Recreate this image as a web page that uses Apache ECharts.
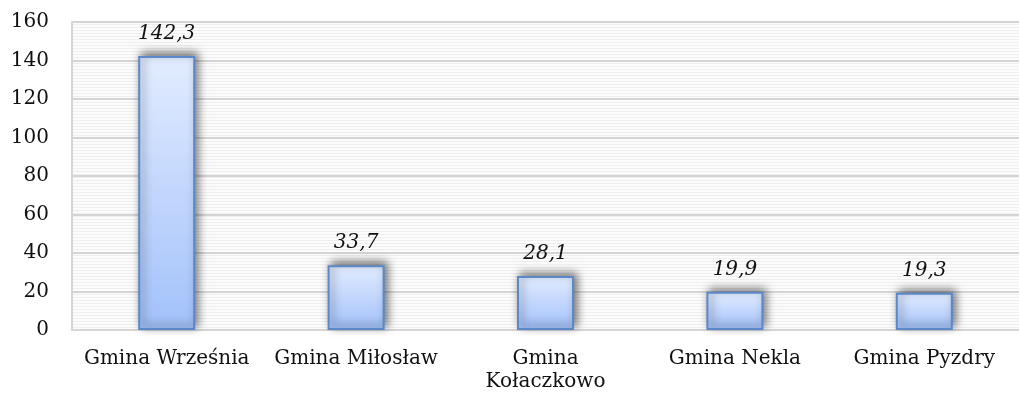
<!DOCTYPE html>
<html>
<head>
<meta charset="utf-8">
<script src="https://cdn.jsdelivr.net/npm/echarts@6/dist/echarts.min.js"></script>
<style>
  html, body { margin: 0; padding: 0; background: #ffffff; }
  #chart { width: 1019px; height: 399px; }
</style>
</head>
<body>
<div id="chart"></div>
<script>
// Gminy powiatu wrzesińskiego
const categories = ['Gmina Września', 'Gmina Miłosław', 'Gmina Kołaczkowo', 'Gmina Nekla', 'Gmina Pyzdry'];
const values = [142.3, 33.7, 28.1, 19.9, 19.3];
const yTicks = [0, 20, 40, 60, 80, 100, 120, 140, 160];

const FONT = '"DejaVu Serif", "Liberation Serif", serif';

// fine horizontal hatching behind the plot
function stripePattern() {
  const c = document.createElement('canvas');
  c.width = 4; c.height = 3;
  const ctx = c.getContext('2d');
  ctx.fillStyle = '#fcfcfc';
  ctx.fillRect(0, 0, 4, 3);
  ctx.fillStyle = '#eeeeee';
  ctx.fillRect(0, 0, 4, 1);
  return c;
}

// long names go onto two lines
function wrapName(name) {
  return name.length > 15 ? name.replace(' ', '\n') : name;
}

const chart = echarts.init(document.getElementById('chart'), null, { renderer: 'canvas' });

chart.setOption({
  animation: false,
  backgroundColor: '#ffffff',
  grid: {
    left: 72, top: 22, width: 961, height: 308,
    show: true,
    backgroundColor: { image: stripePattern(), repeat: 'repeat' },
    borderWidth: 0
  },
  xAxis: {
    type: 'category',
    data: categories,
    axisLine: { show: true, lineStyle: { color: '#d6d6d6', width: 2 } },
    axisTick: { show: false },
    axisLabel: {
      color: '#111111',
      fontFamily: FONT,
      fontSize: 20,
      lineHeight: 23,
      margin: 17,
      interval: 0,
      formatter: wrapName
    }
  },
  yAxis: {
    type: 'value',
    min: yTicks[0],
    max: yTicks[yTicks.length - 1],
    interval: 20,
    axisLine: { show: true, lineStyle: { color: '#d6d6d6', width: 2 } },
    axisTick: { show: false },
    axisLabel: {
      color: '#111111',
      fontFamily: FONT,
      fontSize: 20,
      margin: 23
    },
    splitLine: { show: true, lineStyle: { color: '#d4d4d4', width: 2 } }
  },
  series: [{
    type: 'bar',
    data: values,
    barWidth: 57,
    itemStyle: {
      color: new echarts.graphic.LinearGradient(0, 0, 0, 1, [
        { offset: 0, color: '#e2ecff' },
        { offset: 1, color: '#a2c1fa' }
      ]),
      borderColor: '#5a88c8',
      borderWidth: 2,
      shadowColor: 'rgba(0,0,0,0.55)',
      shadowBlur: 9,
      shadowOffsetX: 3,
      shadowOffsetY: -3
    },
    label: {
      show: true,
      position: 'top',
      distance: 12,
      color: '#111111',
      fontFamily: FONT,
      fontStyle: 'italic',
      fontSize: 20,
      formatter: p => p.value.toFixed(1).replace('.', ',')
    }
  }]
});
</script>
</body>
</html>
